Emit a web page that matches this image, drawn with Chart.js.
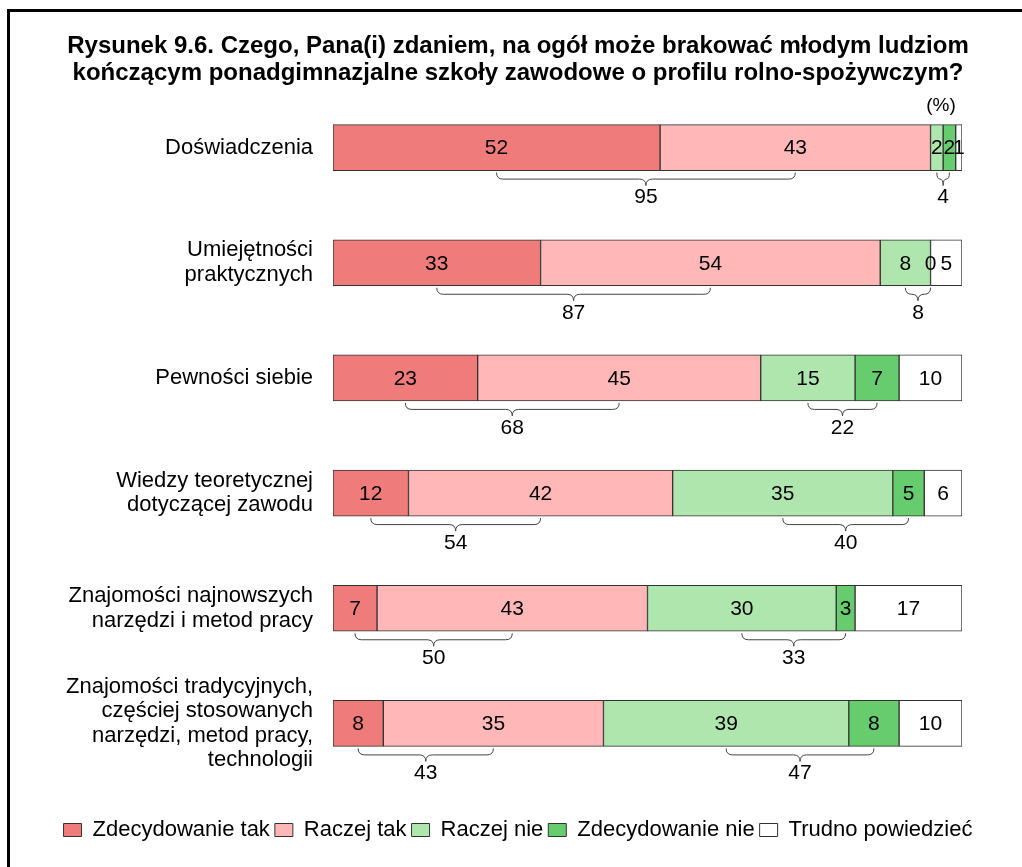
<!DOCTYPE html>
<html>
<head>
<meta charset="utf-8">
<script src="https://cdn.jsdelivr.net/npm/chart.js@4/dist/chart.umd.min.js"></script>
<style>
    html, body { margin: 0; padding: 0; background: #fff; overflow: hidden; }
    #frame {
        position: absolute; left: 7px; top: 9px; width: 1100px; height: 950px;
        border-left: 3px solid #000; border-top: 3px solid #000;
    }
    #wrap { position: absolute; left: 7px; top: 0; width: 1022px; height: 867px; }
</style>
</head>
<body>
<div id="frame"></div>
<div id="wrap"><canvas id="lack_chart" width="1022" height="867"></canvas></div>
<script>
// odpowiedzi w %
const questions = [
    "Doświadczenia",
    ["Umiejętności", "praktycznych"],
    "Pewności siebie",
    ["Wiedzy teoretycznej", "dotyczącej zawodu"],
    ["Znajomości najnowszych", "narzędzi i metod pracy"],
    ["Znajomości tradycyjnych,", "częściej stosowanych", "narzędzi, metod pracy,", "technologii"]
];
const seriesNames = ["Zdecydowanie tak", "Raczej tak", "Raczej nie", "Zdecydowanie nie", "Trudno powiedzieć"];
const zdecydowanieTak = [52, 33, 23, 12, 7, 8];
const raczejTak = [43, 54, 45, 42, 43, 35];
const raczejNie = [2, 8, 15, 35, 30, 39];
const zdecydowanieNie = [2, 0, 7, 5, 3, 8];
const trudnoPowiedziec = [1, 5, 10, 6, 17, 10];
const seriesColors = ["#EF7B7B", "#FFB7B7", "#AEE6AE", "#66CC6E", "#FFFFFF"];

const FONT = "'Liberation Sans', Arial, sans-serif";

const seriesData = [zdecydowanieTak, raczejTak, raczejNie, zdecydowanieNie, trudnoPowiedziec];

function drawBrace(ctx, x1, x2, y, h) {
    let mid = (x1 + x2) / 2;
    let r = Math.min(h / 2, (x2 - x1) / 4);
    let ym = y + h / 2;
    ctx.beginPath();
    ctx.moveTo(x1, y);
    ctx.quadraticCurveTo(x1, ym, x1 + r, ym);
    ctx.lineTo(mid - r, ym);
    ctx.quadraticCurveTo(mid, ym, mid, y + h);
    ctx.quadraticCurveTo(mid, ym, mid + r, ym);
    ctx.lineTo(x2 - r, ym);
    ctx.quadraticCurveTo(x2, ym, x2, y);
    ctx.stroke();
}

// liczby w słupkach, klamry z sumami i "(%)"
const annotations = {
    id: "annotations",
    afterDatasetsDraw(chart) {
        let ctx = chart.ctx;
        ctx.save();
        ctx.font = "21px " + FONT;
        ctx.fillStyle = "#000";
        ctx.textAlign = "center";
        ctx.textBaseline = "middle";
        chart.data.datasets.forEach(function (ds, d) {
            chart.getDatasetMeta(d).data.forEach(function (bar, i) {
                let p = bar.getCenterPoint();
                ctx.fillText(ds.data[i], p.x, p.y + 1);
            });
        });

        let pairs = [[0, 1], [2, 3]];
        for (let i = 0; i < questions.length; i++) {
            pairs.forEach(function (pr) {
                let a = chart.getDatasetMeta(pr[0]).data[i];
                let b = chart.getDatasetMeta(pr[1]).data[i];
                let ca = a.getCenterPoint();
                let cb = b.getCenterPoint();
                let bottom = ca.y + a.height / 2;
                ctx.strokeStyle = "#444";
                ctx.lineWidth = 1;
                drawBrace(ctx, ca.x, cb.x, bottom + 2, 13);
                let sum = seriesData[pr[0]][i] + seriesData[pr[1]][i];
                ctx.fillText(sum, (ca.x + cb.x) / 2, bottom + 27);
            });
        }

        ctx.font = "19px " + FONT;
        ctx.fillText("(%)", chart.chartArea.right - 21, chart.chartArea.top + 16);
        ctx.restore();
    }
};

let ctx = document.getElementById("lack_chart");
let lackChart = new Chart(ctx, {
    type: "bar",
    plugins: [annotations],
    data: {
        labels: questions,
        datasets: seriesNames.map(function (name, k) {
            return {
                label: name,
                data: seriesData[k],
                backgroundColor: seriesColors[k],
                borderColor: "#333",
                borderWidth: 1,
                borderSkipped: false,
                barThickness: 46
            };
        })
    },
    options: {
        responsive: false,
        animation: false,
        indexAxis: "y",
        layout: { padding: { top: 0, right: 0, bottom: 16, left: 0 } },
        scales: {
            x: {
                stacked: true,
                min: 0,
                max: 100,
                ticks: { display: false },
                grid: { display: false, drawTicks: false },
                border: { display: false },
                afterFit: function (s) { s.height = 33; }
            },
            y: {
                stacked: true,
                grid: { display: false, drawTicks: false },
                border: { display: false },
                ticks: {
                    color: "#000",
                    padding: 20,
                    font: { size: 22, family: FONT, lineHeight: 1.12 }
                },
                afterFit: function (s) { s.width = 326; }
            },
            // pusty margines po prawej stronie słupków
            yRight: {
                type: "category",
                position: "right",
                grid: { display: false, drawTicks: false },
                border: { display: false },
                ticks: { display: false },
                afterFit: function (s) { s.width = 67; }
            }
        },
        plugins: {
            title: {
                display: true,
                text: [
                    "Rysunek 9.6. Czego, Pana(i) zdaniem, na ogół może brakować młodym ludziom",
                    "kończącym ponadgimnazjalne szkoły zawodowe o profilu rolno-spożywczym?"
                ],
                color: "#000",
                font: { size: 24, weight: "bold", family: FONT, lineHeight: 1.125 },
                padding: { top: 33, bottom: 3 }
            },
            legend: {
                position: "bottom",
                labels: {
                    color: "#000",
                    boxWidth: 18,
                    boxHeight: 13,
                    padding: 5,
                    font: { size: 22, family: FONT }
                }
            },
            tooltip: { enabled: false }
        }
    }
});
</script>
</body>
</html>
